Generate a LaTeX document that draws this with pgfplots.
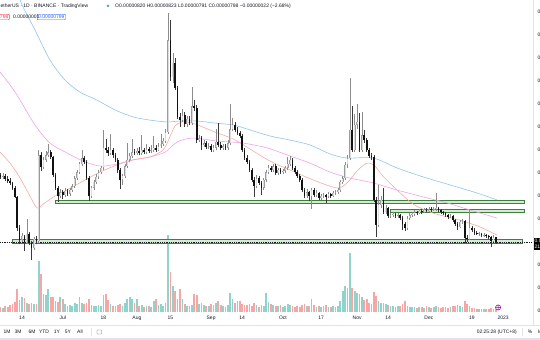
\documentclass[border=0pt]{standalone}
\usepackage{fontspec}
\setmainfont{Liberation Sans}
\usepackage{pgfplots}
\usepackage{pgfplotstable}
\pgfplotsset{compat=1.18}
\definecolor{mablue}{HTML}{90C4EC}
\definecolor{maviolet}{HTML}{EFA2EE}
\definecolor{masalmon}{HTML}{F6ACA4}
\definecolor{volup}{HTML}{8FD3CB}
\definecolor{voldn}{HTML}{F6A6A4}
\definecolor{zonefill}{HTML}{D3EBD3}
\definecolor{zoneline}{HTML}{3E7F3E}
\definecolor{tvtext}{HTML}{131722}
\definecolor{tvgray}{HTML}{6A6D78}
\definecolor{tvline}{HTML}{E0E3EB}
\definecolor{wickup}{HTML}{8C8C8C}
\definecolor{wickdn}{HTML}{3A3A3A}
\definecolor{bodyup}{HTML}{9C9C9C}
\definecolor{bodyupin}{HTML}{DCDCDC}
\definecolor{bodydn}{HTML}{111111}
\definecolor{tvred}{HTML}{F23645}
\definecolor{tvblue}{HTML}{2962FF}
\newcommand\tvf{\fontsize{5}{6}\selectfont}
\pgfplotstableread{
d o h l c v
156 1090 1102 1075 1083 5
157 1083 1098 1076 1087 4
158 1087 1095 1066 1074 6
159 1074 1085 1058 1065 5
160 1065 1078 1050 1057 7
161 1057 1062 1026 1035 8
162 1035 1043 990 996 10
163 996 1000 850 861 23
164 861 875 790 809 12
165 809 840 800 826 15
166 826 832 760 800 14
167 800 900 792 835 9
168 835 842 785 796 8
169 796 805 722 774 9
170 774 822 765 813 8
171 813 826 790 804 8
172 804 1200 796 1178 51
173 1178 1190 1110 1126 38
174 1126 1168 1118 1157 18
175 1157 1195 1148 1178 17
176 1178 1225 1170 1191 23
177 1191 1200 1160 1170 15
178 1170 1176 1082 1091 15
179 1091 1100 1026 1035 11
180 1035 1045 975 1000 10
181 1000 1030 990 1017 15
182 1017 1026 985 1004 13
183 1004 1035 996 1022 8
184 1022 1030 1000 1009 6
185 1009 1035 1000 1026 7
186 1026 1052 1017 1043 6
187 1043 1087 1035 1078 9
188 1078 1113 1070 1104 8
189 1104 1148 1096 1139 15
190 1139 1200 1130 1165 9
191 1165 1174 1139 1148 8
192 1148 1155 1070 1078 9
193 1078 1085 980 1000 13
194 1000 1043 992 1035 7
195 1035 1070 1026 1061 6
196 1061 1096 1052 1083 6
197 1083 1113 1074 1104 7
198 1104 1130 1096 1122 6
199 1122 1287 1113 1209 17
200 1209 1250 1187 1200 18
201 1200 1213 1174 1187 12
202 1187 1270 1180 1200 8
203 1200 1209 1165 1178 6
204 1178 1187 1148 1157 6
205 1157 1165 1100 1113 7
206 1113 1122 1030 1070 8
207 1070 1096 1048 1087 6
208 1087 1139 1078 1130 9
209 1130 1230 1122 1157 13
210 1157 1187 1148 1174 15
211 1174 1250 1165 1191 13
212 1191 1204 1178 1187 9
213 1187 1209 1180 1196 13
214 1196 1213 1178 1187 6
215 1187 1265 1180 1200 7
216 1200 1209 1183 1191 5
217 1191 1226 1183 1204 6
218 1204 1213 1187 1196 6
219 1196 1222 1187 1200 5
220 1200 1260 1191 1209 11
221 1209 1222 1191 1200 13
222 1200 1230 1196 1217 7
223 1217 1270 1209 1226 8
224 1226 1252 1217 1239 6
225 1239 1291 1230 1278 9
226 1278 1796 1270 1678 77
227 1678 1765 1500 1517 40
228 1517 1620 1490 1580 26
229 1580 1600 1460 1470 21
230 1470 1480 1335 1343 13
231 1343 1360 1300 1330 23
232 1330 1380 1322 1352 13
233 1352 1365 1300 1313 8
234 1313 1348 1300 1335 6
235 1335 1348 1309 1317 6
236 1317 1474 1309 1391 7
237 1391 1417 1370 1383 18
238 1383 1395 1230 1243 17
239 1243 1265 1235 1252 8
240 1252 1260 1200 1222 9
241 1222 1243 1213 1230 7
242 1230 1239 1204 1213 6
243 1213 1230 1204 1217 6
244 1217 1226 1191 1200 8
245 1200 1220 1191 1209 7
246 1209 1291 1200 1235 9
247 1235 1317 1213 1222 11
248 1222 1235 1200 1209 7
249 1209 1226 1200 1217 6
250 1217 1226 1200 1209 5
251 1209 1243 1200 1230 7
252 1230 1400 1222 1291 19
253 1291 1340 1283 1309 13
254 1309 1320 1278 1287 9
255 1287 1300 1265 1274 11
256 1274 1283 1252 1261 11
257 1261 1270 1191 1200 8
258 1200 1209 1157 1165 7
259 1165 1178 1139 1148 7
260 1148 1157 1104 1113 8
261 1113 1122 1061 1070 6
262 1070 1083 996 1043 9
263 1043 1091 1035 1078 7
264 1078 1087 1048 1057 5
265 1057 1065 1004 1035 7
266 1035 1078 1026 1070 6
267 1070 1113 1061 1104 19
268 1104 1135 1096 1122 10
269 1122 1130 1104 1113 8
270 1113 1139 1104 1130 7
271 1130 1139 1091 1100 6
272 1100 1122 1091 1113 6
273 1113 1122 1096 1104 7
274 1104 1117 1096 1109 5
275 1109 1130 1100 1122 6
276 1122 1170 1113 1139 8
277 1139 1174 1130 1157 7
278 1157 1165 1113 1122 6
279 1122 1130 1096 1104 5
280 1104 1113 1078 1087 6
281 1087 1096 1061 1070 5
282 1070 1078 1017 1026 7
283 1026 1035 991 1000 8
284 1000 1030 991 1017 6
285 1017 1022 978 1000 6
286 1000 1035 943 1026 13
287 1026 1035 996 1004 7
288 1004 1026 996 1013 5
289 1013 1017 983 991 6
290 991 1009 983 1000 5
291 1000 1013 991 1004 6
292 1004 1009 970 996 7
293 996 1017 991 1009 5
294 1009 1013 991 1000 5
295 1000 1022 996 1013 6
296 1013 1026 1004 1017 5
297 1017 1035 1009 1026 6
298 1026 1070 1017 1061 11
299 1061 1087 1052 1078 21
300 1078 1148 1070 1135 26
301 1135 1178 1122 1165 24
302 1165 1513 1157 1287 59
303 1287 1391 1191 1200 24
304 1200 1357 1191 1309 21
305 1309 1400 1291 1322 19
306 1322 1360 1191 1200 18
307 1200 1365 1191 1265 15
308 1265 1287 1230 1243 12
309 1243 1252 1191 1200 13
310 1200 1209 1165 1174 9
311 1174 1187 1157 1170 8
312 1170 1178 975 983 20
313 983 996 822 874 16
314 874 1048 865 961 11
315 961 1000 948 983 9
316 983 1035 922 930 9
317 930 961 922 948 8
318 948 952 904 913 7
319 913 926 904 917 6
320 917 930 909 922 6
321 922 926 904 913 5
322 913 926 904 917 6
323 917 922 896 904 6
324 904 913 852 878 8
325 878 887 848 861 11
326 861 913 852 904 6
327 904 926 896 917 5
328 917 930 909 922 5
329 922 939 913 930 5
330 930 935 917 926 4
331 926 943 922 935 5
332 935 943 922 930 5
333 930 948 926 939 4
334 939 948 930 935 6
335 935 952 930 943 5
336 943 952 930 939 4
337 939 952 935 943 5
338 943 1013 935 948 6
339 948 952 930 939 5
340 939 943 922 930 4
341 930 935 917 926 5
342 926 930 909 917 5
343 917 922 900 909 4
344 909 922 904 913 5
345 913 917 887 896 6
346 896 900 870 878 6
347 878 887 852 865 7
348 865 896 861 887 6
349 887 900 878 891 5
350 891 896 796 817 11
351 817 830 800 813 8
352 813 939 809 861 6
353 861 870 843 852 4
354 852 861 830 839 4
355 839 848 830 835 3
356 835 843 826 835 3
357 835 839 822 830 3
358 830 839 822 830 3
359 830 835 817 826 3
360 826 830 813 822 3
361 822 826 778 804 4
362 804 830 800 820 3
363 820 823 791 798 3
}\candles
\pgfplotsset{
  upset/.style={restrict expr to domain={\thisrow{c}-\thisrow{o}}{0:100000}},
  dnset/.style={restrict expr to domain={\thisrow{c}-\thisrow{o}}{-100000:-0.001}},
  tvaxis/.style={scale only axis, width=533bp, height=312bp, at={(0,28bp)}, anchor=south west,
    xmin=155.8, xmax=378.5, axis line style={draw=none}, tick style={draw=none}, clip=true},
  candle/.style n args={2}{draw=none, mark=none, forget plot,
    error bars/.cd, y dir=plus, y explicit, error mark=none,
    error bar style={line width=#1, draw=#2, solid}},
}
\begin{document}
\begin{tikzpicture}
\useasboundingbox (0,0) rectangle (540bp,340bp);
\begin{scope}
\clip (0,0) rectangle (540bp,340bp);
% volume pane
\begin{axis}[tvaxis, ymin=0, ymax=312, xtick=\empty, ytick=\empty]
\addplot[upset, ycomb, line width=1.7bp, draw=volup, mark=none] table[x=d, y=v]{\candles};
\addplot[dnset, ycomb, line width=1.7bp, draw=voldn, mark=none] table[x=d, y=v]{\candles};
\addplot[only marks, mark=oplus, mark size=2.6bp, mark options={draw=violet!80!magenta, fill=white, line width=0.5bp}] coordinates {(363.9,4.5)};
\end{axis}
% price pane
\begin{axis}[tvaxis, ymin=495.7, ymax=1852.2,
  xtick={165,182,199,213,227,244,257,274,290,305,318,335,353,366},
  xticklabels={14,Jul,18,Aug,15,Sep,14,Oct,17,Nov,14,Dec,19,2023},
  xticklabel style={font=\tvf, text=tvtext, anchor=center, yshift=-6bp},
  ytick={500,600,700,900,1000,1100,1200,1300,1400,1500,1600,1700,1800},
  yticklabels={0.00000500,0.00000600,0.00000700,0.00000900,0.00001000,0.00001100,0.00001200,0.00001300,0.00001400,0.00001500,0.00001600,0.00001700,0.00001800},
  yticklabel pos=right,
  yticklabel style={font=\tvf, text=tvtext, anchor=west, xshift=1bp},
  clip mode=individual]
% zones
\addplot[fill=zonefill, draw=zoneline, line width=0.6bp] coordinates {(178.8,967) (374.8,967) (374.8,983) (178.8,983)} -- cycle;
\addplot[fill=zonefill, draw=zoneline, line width=0.6bp] coordinates {(318.8,930) (374.8,930) (374.8,943) (318.8,943)} -- cycle;
\addplot[fill=zonefill, draw=zoneline, line width=0.6bp] coordinates {(160.8,796) (374.0,796) (374.0,813) (160.8,813)} -- cycle;
% dotted last price
\addplot[draw=tvtext, line width=0.45bp, dash pattern=on 0.6bp off 1.2bp] coordinates {(155.8,798) (378.5,798)};
% moving averages
\addplot[draw=mablue, line width=0.6bp, smooth] coordinates {
(164.0,1860) (165.4,1822) (170.4,1722) (176.7,1591) (183.0,1504) (189.2,1452) (196.3,1417)
(203.9,1374) (211.4,1344) (218.5,1330) (225.6,1322) (231.0,1326) (238.1,1326) (245.6,1317)
(253.2,1309) (260.3,1287) (268.6,1261) (277.0,1243) (285.3,1222) (293.7,1183) (300.8,1165)
(311.7,1165) (321.7,1122) (332.6,1083) (343.9,1048) (355.1,1013) (363.5,983)};
\addplot[draw=maviolet, line width=0.6bp, smooth] coordinates {
(155.8,1539) (160.0,1483) (164.2,1417) (170.4,1309) (176.7,1230) (183.8,1187) (190.5,1152)
(197.6,1130) (204.7,1139) (211.4,1157) (218.5,1170) (224.8,1191) (229.8,1235) (236.5,1252)
(246.5,1239) (257.4,1230) (267.4,1209) (277.0,1174) (285.3,1143) (293.7,1104) (302.0,1078)
(311.7,1057) (321.7,1026) (332.6,996) (342.6,970) (352.2,939) (363.5,904)};
\addplot[draw=masalmon, line width=0.6bp, smooth] coordinates {
(155.8,1191) (160.0,1143) (164.2,1078) (168.3,1000) (171.3,948) (173.8,965) (178.8,1000)
(183.8,1026) (190.5,1065) (197.6,1104) (204.7,1135) (211.4,1157) (218.5,1170) (223.9,1200)
(226.8,1257) (228.9,1304) (231.9,1322) (237.3,1313) (245.6,1278) (253.2,1248) (260.3,1204)
(268.6,1152) (277.0,1113) (286.6,1070) (296.6,1035) (300.8,1057) (305.0,1109) (309.2,1143)
(312.5,1130) (315.4,1091) (321.7,1026) (328.4,965) (335.5,930) (342.6,909) (349.3,891)
(356.4,865) (363.5,830)};
% wicks
\addplot[upset, candle={0.55bp}{wickup}]
  table[x=d, y=l, y error plus expr={\thisrow{h}-\thisrow{l}}]{\candles};
\addplot[dnset, candle={0.55bp}{wickdn}]
  table[x=d, y=l, y error plus expr={\thisrow{h}-\thisrow{l}}]{\candles};
% bodies
\addplot[upset, candle={1.7bp}{bodyup}]
  table[x=d, y expr={min(\thisrow{o},\thisrow{c})}, y error plus expr={max(abs(\thisrow{c}-\thisrow{o}),2)}]{\candles};
\addplot[upset, candle={0.7bp}{bodyupin}]
  table[x=d, y expr={min(\thisrow{o},\thisrow{c})+2}, y error plus expr={max(abs(\thisrow{c}-\thisrow{o})-4,0)}]{\candles};
\addplot[dnset, candle={1.7bp}{bodydn}]
  table[x=d, y expr={min(\thisrow{o},\thisrow{c})}, y error plus expr={max(abs(\thisrow{c}-\thisrow{o}),2)}]{\candles};
\end{axis}
% frame lines
\draw[tvline, line width=0.5bp] (533bp,15bp) -- (533bp,340bp);
\draw[tvline, line width=0.5bp] (0,15bp) -- (540bp,15bp);
\fill[tvline] (0,0) rectangle (540bp,2bp);
% last price label
\node[fill=black, text=white, anchor=west, inner sep=1bp, font=\tvf, align=left] at (533.5bp,96bp) {0.00000798\\21:34:31};
% header
\node[anchor=west, inner sep=0, font=\tvf, text=tvtext] at (0.5bp,334bp) {etherUS · 1D · BINANCE · TradingView};
\fill[volup!60!teal] (108bp,334bp) circle (1.5bp);
\node[anchor=west, inner sep=0, font=\tvf, text=tvtext] at (115bp,334bp) {O0.00000820 H0.00000823 L0.00000791 C0.00000798 −0.00000022 (−2.68\%)};
\node[anchor=east, draw=tvred, text=tvred, inner sep=1bp, rounded corners=0.8bp, line width=0.4bp, font=\tvf] at (9.5bp,323bp) {0.00000798};
\node[anchor=west, inner sep=0, font=\tvf, text=tvtext] at (13bp,323bp) {0.00000001};
\node[anchor=west, draw=tvblue, text=tvblue, inner sep=1bp, rounded corners=0.8bp, line width=0.4bp, font=\tvf] at (37bp,323bp) {0.00000799};
% toolbar
\foreach \t/\xx in {1M/7,3M/18,6M/32,YTD/44,1Y/57,5Y/68,All/80} {
  \node[font=\tvf, text=tvtext, inner sep=0] at (\xx bp,8bp) {\t};
}
\draw[tvgray, line width=0.4bp, rounded corners=0.4bp] (97bp,6bp) rectangle (101.5bp,10bp);
\draw[tvline, line width=0.4bp] (91bp,4bp) -- (91bp,12bp);
\node[font=\tvf, text=tvtext, inner sep=0, anchor=east] at (517bp,8bp) {02:25:28 (UTC+8)};
\draw[tvline, line width=0.4bp] (522bp,4bp) -- (522bp,12bp);
\node[font=\tvf, text=tvtext, inner sep=0] at (530bp,8bp) {\%};
\node[font=\tvf, text=tvtext, inner sep=0, anchor=west] at (538bp,8bp) {log};
\end{scope}
\end{tikzpicture}
\end{document}
